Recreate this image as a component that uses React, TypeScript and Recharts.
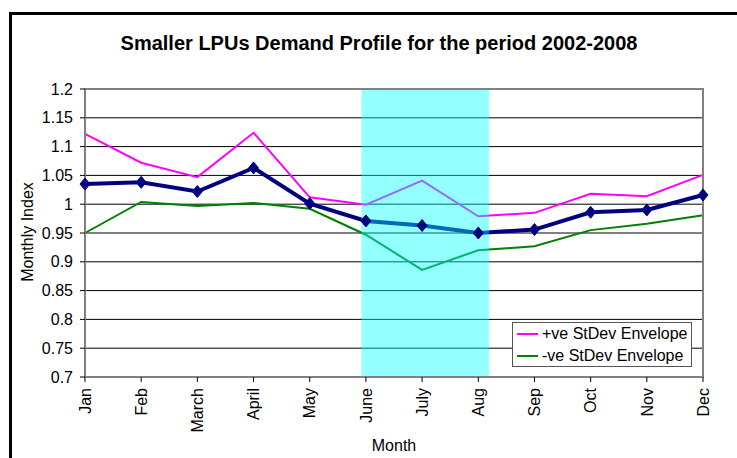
import React from "react";
import {
  LineChart,
  Line,
  XAxis,
  YAxis,
  CartesianGrid,
  ReferenceArea,
} from "recharts";

const months = [
  "Jan", "Feb", "March", "April", "May", "June",
  "July", "Aug", "Sep", "Oct", "Nov", "Dec",
];

const monthlyIndex = [
  1.035, 1.038, 1.022, 1.063, 1.001, 0.971,
  0.963, 0.950, 0.956, 0.986, 0.990, 1.016,
];

const plusStDev = [
  1.122, 1.072, 1.047, 1.124, 1.012, 0.999,
  1.041, 0.979, 0.985, 1.018, 1.014, 1.051,
];

const minusStDev = [
  0.950, 1.004, 0.997, 1.002, 0.992, 0.947,
  0.886, 0.920, 0.927, 0.955, 0.966, 0.981,
];

const yTicks = [0.7, 0.75, 0.8, 0.85, 0.9, 0.95, 1, 1.05, 1.1, 1.15, 1.2];

// summer band, a little wider than June..Aug like the original drawing
const bandStart = 4.92;
const bandEnd = 7.19;

const data = months.map((m, i) => ({
  i,
  month: m,
  avg: monthlyIndex[i],
  plus: plusStDev[i],
  minus: minusStDev[i],
}));

const legendItems = [
  { label: "+ve StDev Envelope", color: "#ff00ff" },
  { label: "-ve StDev Envelope", color: "#008000" },
];

const font = "'Liberation Sans', Arial, sans-serif";

const MonthTick = (props: any) => {
  const { x, y, payload } = props;
  return (
    <text
      x={x}
      y={y}
      transform={`rotate(-90 ${x} ${y})`}
      textAnchor="end"
      dy="0.36em"
      fontSize={16}
      fill="#000"
      fontFamily={font}
    >
      {months[payload.value]}
    </text>
  );
};

const Diamond = (props: any) => {
  const { cx, cy } = props;
  if (cx == null || cy == null) return null;
  return (
    <polygon
      points={`${cx},${cy - 6} ${cx + 5},${cy} ${cx},${cy + 6} ${cx - 5},${cy}`}
      fill="#000080"
      stroke="#000080"
    />
  );
};

export default function App() {
  return (
    <div
      style={{
        position: "absolute",
        left: 0,
        top: 0,
        width: 737,
        height: 458,
        overflow: "hidden",
        background: "#fff",
        fontFamily: font,
      }}
    >
      <div
        style={{
          position: "absolute",
          left: 9,
          top: 12,
          width: 800,
          height: 500,
          borderLeft: "3px solid #000",
          borderTop: "3px solid #000",
        }}
      />

      <LineChart
        width={737}
        height={458}
        data={data}
        margin={{ top: 89, right: 34, bottom: 0, left: 25 }}
      >
        <CartesianGrid
          horizontal
          vertical={false}
          stroke="#000"
          strokeOpacity={1}
        />

        <XAxis
          dataKey="i"
          type="number"
          domain={[0, 11]}
          ticks={months.map((_, i) => i)}
          interval={0}
          height={81}
          tickSize={5}
          tickMargin={6}
          tick={<MonthTick />}
          stroke="#808080"
          tickLine={{ stroke: "#000" }}
        />

        <YAxis
          type="number"
          domain={[0.7, 1.2]}
          ticks={yTicks}
          interval={0}
          width={60}
          tickSize={5}
          tickMargin={7}
          stroke="#808080"
          tickLine={{ stroke: "#000" }}
          tick={{ fontSize: 16, fill: "#000", fontFamily: font }}
        />

        <Line
          dataKey="plus"
          stroke="#ff00ff"
          strokeWidth={2}
          dot={false}
          isAnimationActive={false}
        />

        <Line
          dataKey="minus"
          stroke="#008000"
          strokeWidth={2}
          dot={false}
          isAnimationActive={false}
        />

        <Line
          dataKey="avg"
          stroke="#000080"
          strokeWidth={4}
          dot={<Diamond />}
          activeDot={false}
          isAnimationActive={false}
        />

        <ReferenceArea
          x1={bandStart}
          x2={bandEnd}
          y1={0.7}
          y2={1.2}
          fill="#00ffff"
          fillOpacity={0.42}
          stroke="none"
          zIndex={450}
        />

        <ReferenceArea
          x1={0}
          x2={11}
          y1={0.7}
          y2={1.2}
          fill="none"
          stroke="#808080"
          strokeWidth={2}
          zIndex={460}
        />
      </LineChart>

      <svg
        width={737}
        height={458}
        style={{ position: "absolute", left: 0, top: 0, pointerEvents: "none" }}
      >
        <text
          x={379}
          y={50}
          textAnchor="middle"
          fontSize={20}
          fontWeight="bold"
          fontFamily={font}
        >
          Smaller LPUs Demand Profile for the period 2002-2008
        </text>

        <text
          x={33}
          y={232}
          transform="rotate(-90 33 232)"
          textAnchor="middle"
          fontSize={16}
          fontFamily={font}
        >
          Monthly Index
        </text>

        <text
          x={394}
          y={451}
          textAnchor="middle"
          fontSize={16}
          fontFamily={font}
        >
          Month
        </text>
      </svg>

      <div
        style={{
          position: "absolute",
          left: 512,
          top: 322,
          width: 178,
          height: 43,
          border: "1px solid #555",
          background: "#fff",
          fontSize: 16,
          lineHeight: "22px",
        }}
      >
        {legendItems.map((item) => (
          <div
            key={item.label}
            style={{ display: "flex", alignItems: "center", height: 22 }}
          >
            <span
              style={{
                display: "inline-block",
                width: 21,
                height: 2,
                marginLeft: 4,
                marginRight: 4,
                background: item.color,
              }}
            />
            {item.label}
          </div>
        ))}
      </div>
    </div>
  );
}
